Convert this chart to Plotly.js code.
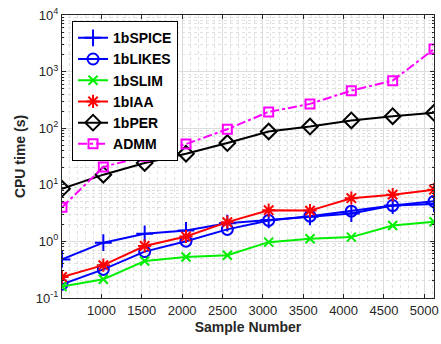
<!DOCTYPE html>
<html>
<head>
<meta charset="utf-8">
<script src="https://cdn.plot.ly/plotly-3.0.1.min.js"></script>
<style>html,body{margin:0;padding:0;background:#fff;}#chart{width:441px;height:344px;}</style>
</head>
<body>
<div id="chart"></div>
<script>
const sampleNumbers = [512, 1024, 1536, 2048, 2560, 3072, 3584, 4096, 4608, 5120];
const spice = [0.48, 0.95, 1.36, 1.56, 2.1, 2.4, 2.72, 3.1, 4.3, 4.6];
const likes = [0.175, 0.32, 0.66, 1.01, 1.63, 2.35, 2.79, 3.42, 4.3, 5.1];
const slim  = [0.16, 0.214, 0.45, 0.53, 0.57, 0.97, 1.11, 1.19, 1.91, 2.22];
const iaa   = [0.235, 0.38, 0.83, 1.22, 2.19, 3.56, 3.5, 5.8, 6.7, 8.2];
const per   = [8.5, 15.1, 24.3, 35.4, 54.6, 87.5, 107, 137, 163, 187];
const admm  = [4.0, 20.7, 31.8, 52.5, 96, 194, 269, 461, 692, 2500];
const xTicks = [1000, 1500, 2000, 2500, 3000, 3500, 4000, 4500, 5000];
const yTicks = [0.1, 1, 10, 100, 1000, 10000];
const yTickText = ['10<sup>-1</sup>', '10<sup>0</sup>', '10<sup>1</sup>', '10<sup>2</sup>', '10<sup>3</sup>', '10<sup>4</sup>'];

const yMinor = [];
for (let e = -1; e < 4; e++) for (let k = 2; k <= 9; k++) yMinor.push(k * Math.pow(10, e));

function tr(name, y, color, symbol, dash, msize) {
  return {
    x: sampleNumbers, y: y, name: name, type: 'scatter', mode: 'lines+markers',
    line: {color: color, width: 2, dash: dash || 'solid'},
    marker: {symbol: symbol, size: msize || 10, color: color, line: {color: color, width: 2}}
  };
}

const data = [
  tr('1bSPICE', spice, '#0000ff', 'cross-thin-open', 'solid', 12),
  tr('1bLIKES', likes, '#0000ff', 'circle-open', 'solid', 11),
  tr('1bSLIM', slim, '#00ee00', 'x-thin-open', 'solid', 9),
  tr('1bIAA', iaa, '#ff0000', 'asterisk-open', 'solid', 11),
  tr('1bPER', per, '#000000', 'diamond-open', 'solid', 12),
  tr('ADMM', admm, '#ff00ff', 'square-open', 'dashdot', 9)
];

const font = {family: 'Liberation Sans, Arial, sans-serif', size: 13, color: '#262626'};

const layout = {
  width: 441, height: 344,
  margin: {l: 62, r: 7, t: 15, b: 46},
  paper_bgcolor: '#fff', plot_bgcolor: '#fff',
  font: font,
  showlegend: true,
  legend: {
    x: 0.027, y: 0.978, xanchor: 'left', yanchor: 'top',
    bgcolor: '#fff', bordercolor: '#000', borderwidth: 1,
    font: {family: 'Liberation Sans, Arial, sans-serif', size: 14, color: '#000', weight: 'bold'},
    tracegroupgap: 0
  },
  xaxis: {
    range: [512, 5120],
    tickvals: xTicks,
    ticks: 'inside', ticklen: 4, tickcolor: '#262626',
    showline: true, linecolor: '#262626', linewidth: 1, mirror: 'ticks',
    showgrid: true, gridcolor: '#dcdcdc', gridwidth: 1,
    zeroline: false,
    minor: {dtick: 100, tick0: 0, showgrid: true, gridcolor: '#e0e0e0', griddash: 'dot', gridwidth: 1, ticks: ''},
    title: {text: 'Sample Number', font: {family: 'Liberation Sans, Arial, sans-serif', size: 14, color: '#262626', weight: 'bold'}, standoff: 5}
  },
  yaxis: {
    type: 'log',
    range: [-1, 4],
    tickvals: yTicks, ticktext: yTickText,
    ticks: 'inside', ticklen: 4, tickcolor: '#262626',
    showline: true, linecolor: '#262626', linewidth: 1, mirror: 'ticks',
    showgrid: true, gridcolor: '#dcdcdc', gridwidth: 1,
    zeroline: false,
    minor: {tickvals: yMinor, showgrid: true, gridcolor: '#e0e0e0', griddash: 'dot', gridwidth: 1, ticks: 'inside', ticklen: 2, tickcolor: '#262626'},
    title: {text: 'CPU time (s)', font: {family: 'Liberation Sans, Arial, sans-serif', size: 14, color: '#262626', weight: 'bold'}, standoff: 6}
  }
};

Plotly.newPlot('chart', data, layout, {staticPlot: true, displayModeBar: false});
</script>
</body>
</html>
